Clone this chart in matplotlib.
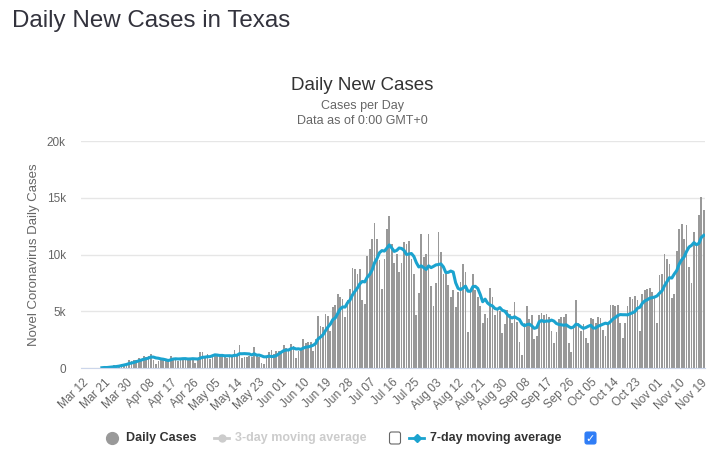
import numpy as np
import pandas as pd
import matplotlib
matplotlib.use('Agg')
import matplotlib.pyplot as plt
from matplotlib.lines import Line2D
from matplotlib.patches import FancyBboxPatch
from matplotlib.transforms import IdentityTransform

plt.rcParams['font.family'] = ['Liberation Sans', 'DejaVu Sans']

# daily new cases, Mar 12 .. Nov 20 2020 (None = no data yet)
mar = [None] * 8 + [50, 90, 60, 150, 180, 250, 330, 280, 420, 400, 500, 700]
apr = [600, 700, 750, 900, 800, 1100, 1000, 1100, 1300, 700, 400, 600, 700, 800, 750,
       850, 1100, 900, 750, 600, 850, 880, 880, 880, 950, 880, 500, 750, 1400, 1400]
may = [1000, 1250, 850, 1100, 1300, 1250, 1150, 1050, 1000, 900, 1100, 1150, 1650, 1150, 2050,
       950, 1000, 1000, 1050, 1000, 1900, 1200, 1000, 500, 400, 1100, 1400, 1650, 1250, 1500, 1550]
jun = [1450, 2050, 1800, 1650, 2100, 1950, 900, 1550, 1750, 2550, 2200, 2300, 2350, 1500, 2600,
       4600, 3700, 3600, 4800, 4600, 3300, 5400, 5600, 6500, 6300, 6100, 4500, 6000, 7000, 8800]
jul = [8700, 8300, 8700, 6000, 5700, 9900, 10500, 11400, 12800, 11400, 9500, 7000, 9600, 12300, 13400,
       10900, 9300, 10100, 8500, 9300, 11100, 10900, 11200, 9600, 8300, 4700, 6600, 11800, 9800, 10100, 11800]
aug = [7200, 5500, 7500, 12000, 10200, 8300, 8300, 7300, 6300, 6900, 5400, 6700, 7600, 9200, 8500,
       3200, 6800, 8300, 6900, 6300, 5500, 4000, 4800, 4400, 7100, 6300, 4700, 5100, 5000, 3100, 3900]
sep = [5100, 4800, 4000, 5800, 4100, 2300, 1200, 4000, 5500, 4300, 4700, 2600, 2800, 4700, 4900,
       4700, 4800, 4500, 3300, 2200, 3200, 4300, 4500, 4500, 4800, 2200, 1400, 3800, 6000, 4000]
oct_ = [3300, 3900, 2700, 2200, 4400, 4300, 4000, 4500, 4400, 3400, 2800, 4000, 5600, 5600, 5500,
        5600, 4000, 2700, 4000, 5500, 6300, 6100, 6400, 6000, 3300, 6500, 6900, 7000, 7100, 6700, 6400]
nov = [4000, 8200, 8300, 10100, 9600, 9200, 6200, 6500, 10300, 12300, 12700, 11400, 12600, 8900, 7500,
       12000, 11000, 13500, 15100, 13900]

cases = pd.Series(mar + apr + may + jun + jul + aug + sep + oct_ + nov, dtype=float)
dates = pd.date_range('2020-03-12', periods=len(cases), freq='D')
avg7 = cases.rolling(7, min_periods=1).mean()
x = np.arange(len(cases))

W, H = 716, 461
fig = plt.figure(figsize=(W / 100, H / 100), dpi=100)
ax = fig.add_axes([81 / W, 1 - 368.3 / H, 624 / W, (368.3 - 141) / H])

ax.bar(x, cases, width=0.7, color='#999999', linewidth=0, zorder=2)
ax.plot(x, avg7, color='#1ba3cf', lw=2.2, zorder=3, solid_joinstyle='round')

ax.set_xlim(-0.5, len(cases) - 0.5)
ax.set_ylim(0, 20000)
ax.set_yticks([0, 5000, 10000, 15000, 20000])
ax.set_yticklabels(['0', '5k', '10k', '15k', '20k'])
ax.yaxis.grid(True, color='#e6e6e6', lw=1, zorder=0)
ax.set_axisbelow(True)
for s in ['top', 'right', 'left']:
    ax.spines[s].set_visible(False)
ax.spines['bottom'].set_color('#ccd6eb')
ax.spines['bottom'].set_zorder(4)

ticks = x[::9]
ax.set_xticks(ticks)
ax.set_xticklabels([d.strftime('%b %d') for d in dates[::9]], rotation=45,
                   ha='right', va='top', rotation_mode='anchor')
ax.tick_params(axis='x', length=0, pad=6, labelsize=8.5, labelcolor='#666666')
ax.tick_params(axis='y', length=0, pad=11, labelsize=8.5, labelcolor='#666666')

ax.set_ylabel('Novel Coronavirus Daily Cases', fontsize=9.5, color='#666666', labelpad=5)

fig.text(12 / W, 1 - 21 / H, 'Daily New Cases in Texas', fontsize=17.4, color='#33333d',
         ha='left', va='center')
fig.text(362 / W, 1 - 85 / H, 'Daily New Cases', fontsize=13.5, color='#333333',
         ha='center', va='center')
fig.text(362 / W, 1 - 106 / H, 'Cases per Day', fontsize=9, color='#666666',
         ha='center', va='center')
fig.text(362 / W, 1 - 121 / H, 'Data as of 0:00 GMT+0', fontsize=9, color='#666666',
         ha='center', va='center')

# legend drawn by hand, pixel coordinates
ly = H - 438
pix = IdentityTransform()
fig.add_artist(Line2D([112], [ly], marker='o', ms=8.5, color='#999999', transform=pix))
fig.text(126 / W, ly / H, 'Daily Cases', fontsize=9, fontweight='bold', color='#333333', va='center')

fig.add_artist(Line2D([214, 229], [ly, ly], color='#cccccc', lw=2, transform=pix))
fig.add_artist(Line2D([221.5], [ly], marker='o', ms=5, color='#cccccc', transform=pix))
fig.text(235 / W, ly / H, '3-day moving average', fontsize=9, fontweight='bold', color='#cccccc', va='center')
fig.add_artist(FancyBboxPatch((389.5, ly - 6), 11, 12, boxstyle='round,pad=0,rounding_size=2',
                              facecolor='white', edgecolor='#666666', lw=0.8, transform=pix))

fig.add_artist(Line2D([409, 424], [ly, ly], color='#1ba3cf', lw=2, transform=pix))
fig.add_artist(Line2D([416.5], [ly], marker='D', ms=4.5, color='#1ba3cf', transform=pix))
fig.text(430 / W, ly / H, '7-day moving average', fontsize=9, fontweight='bold', color='#333333', va='center')
fig.add_artist(FancyBboxPatch((585, ly - 6), 11, 12, boxstyle='round,pad=0,rounding_size=2',
                              facecolor='#2f7df6', edgecolor='#2f7df6', lw=0.8, transform=pix))
fig.text(590.5 / W, (ly - 0.5) / H, '\u2713', fontsize=8, color='white', ha='center', va='center',
         family=['DejaVu Sans'], fontweight='bold')

fig.savefig('out.png', dpi=100, facecolor='white')
